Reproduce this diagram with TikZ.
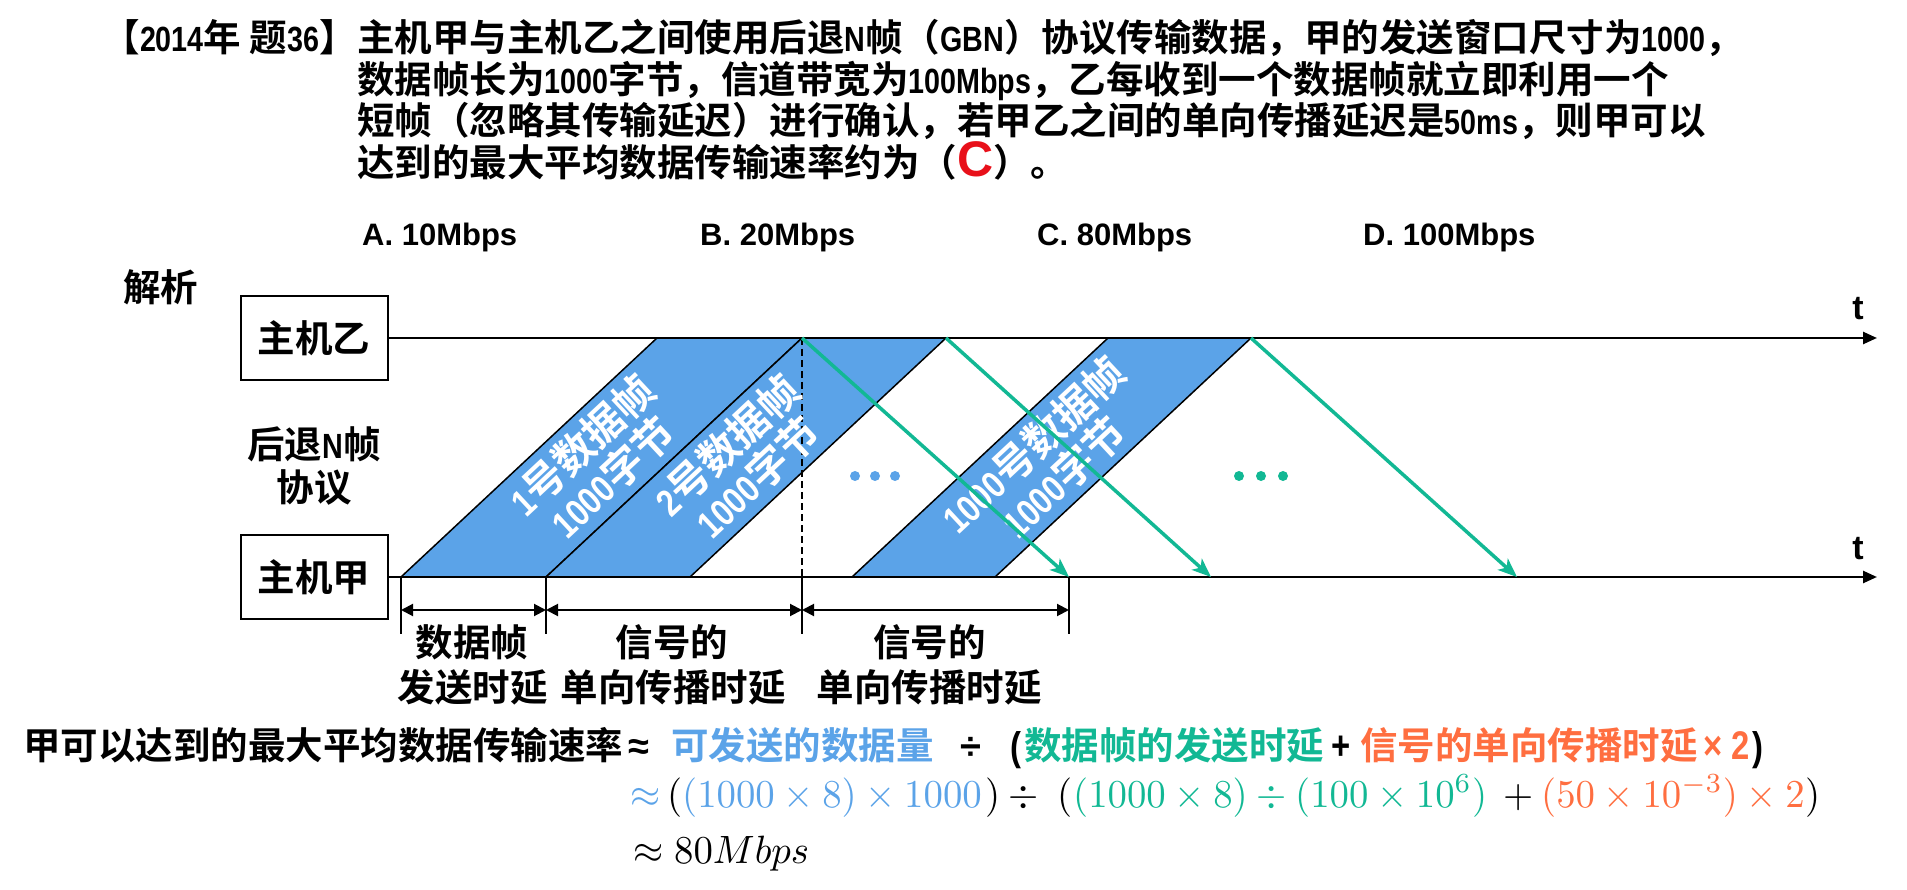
\documentclass[tikz,border=0pt]{standalone}
\usepackage{fontspec}
\usepackage{graphicx}
\usetikzlibrary{arrows.meta}
\setmainfont{Liberation Sans}
\newfontfamily\cjkf{Noto Sans CJK SC}[BoldFont={Noto Sans CJK SC Bold}]
\newfontfamily\latf{Liberation Sans}
\newfontfamily\latn{Liberation Sans}[FakeStretch=0.82]
\definecolor{fblue}{HTML}{5BA3E8}
\definecolor{tgreen}{HTML}{12B894}
\definecolor{torange}{HTML}{FF6E40}
\definecolor{cred}{HTML}{E8101A}
\newcommand\zhfont{\cjkf\bfseries\fontsize{37.5}{43}\selectfont}
\newcommand\frfont{\cjkf\bfseries\fontsize{41}{44}\selectfont}
\newcommand\lt[1]{{\latn\bfseries\fontsize{35}{36}\selectfont #1}}
\newcommand\fl[1]{{\latn\bfseries\fontsize{38}{44}\selectfont #1}}
\newcommand\latfont{\latf\bfseries\fontsize{31}{36}\selectfont}
\newcommand\narfont{\latn\bfseries\fontsize{40}{40}\selectfont}
\newcommand\symfont{\latf\bfseries\fontsize{38}{40}\selectfont}
\newcommand\tfont{\latf\bfseries\fontsize{34}{36}\selectfont}
\newcommand\mth[1]{\scalebox{3.88}[3.95]{$#1$}}
\begin{document}
\begin{tikzpicture}[x=1pt,y=-1pt,
  zh/.style={font=\zhfont, inner sep=0pt},
  lat/.style={font=\latfont, inner sep=0pt},
  nar/.style={font=\narfont, inner sep=0pt},
  sym/.style={font=\symfont, inner sep=0pt},
  hostbox/.style={draw, line width=2pt, minimum width=147pt, minimum height=84pt, inner sep=0pt, font=\zhfont},
  timeline/.style={line width=2.5pt, -{Triangle[length=14pt,width=12pt]}},
  dframe/.style={fill=fblue, draw=black, line width=1.5pt, line join=miter},
  frtext/.style={font=\frfont, text=white, align=center, rotate=43, inner sep=0pt},
  ack/.style={draw=tgreen, line width=3.5pt, -{Stealth[length=19pt,width=15pt,inset=5pt]}, tgreen},
  dimtick/.style={line width=1.5pt},
  dimline/.style={line width=2pt, {Triangle[length=12pt,width=12pt]}-{Triangle[length=12pt,width=12pt]}},
  vdash/.style={line width=1.5pt, dash pattern=on 7pt off 4pt},
  mnode/.style={inner sep=0pt, anchor=base west},
]
\useasboundingbox (0,0) rectangle (1907,890);

% ---------- heading ----------
\node[zh, anchor=base east] (hpre) at (357,52) {【\lt{2014}年 题\lt{36}】};
\node[zh, anchor=base west] (h1) at (357,52) {主机甲与主机乙之间使用后退\lt{N}帧（\lt{GBN}）协议传输数据，甲的发送窗口尺寸为\lt{1000}，};
\node[zh, anchor=base west] (h2) at (357,93.5) {数据帧长为\lt{1000}字节，信道带宽为\lt{100Mbps}，乙每收到一个数据帧就立即利用一个};
\node[zh, anchor=base west] (h3) at (357,135) {短帧（忽略其传输延迟）进行确认，若甲乙之间的单向传播延迟是\lt{50ms}，则甲可以};
\node[zh, anchor=base west] (h4) at (357,176.5) {达到的最大平均数据传输速率约为（{\latf\bfseries\fontsize{50}{50}\selectfont\color{cred}C}）。};

\node[lat, anchor=base west] (oA) at (362,246) {A. 10Mbps};
\node[lat, anchor=base west] (oB) at (700,246) {B. 20Mbps};
\node[lat, anchor=base west] (oC) at (1037,246) {C. 80Mbps};
\node[lat, anchor=base west] (oD) at (1363,246) {D. 100Mbps};

\node[zh, anchor=base west] (jx) at (123,302) {解析};

% ---------- frames ----------
\coordinate (f1a) at (401,577); \coordinate (f1b) at (546,577);
\coordinate (f1c) at (802,338); \coordinate (f1d) at (657,338);
\coordinate (f2a) at (546,577); \coordinate (f2b) at (690,577);
\coordinate (f2c) at (946,338); \coordinate (f2d) at (802,338);
\coordinate (f3a) at (852,577); \coordinate (f3b) at (995,577);
\coordinate (f3c) at (1251,338); \coordinate (f3d) at (1108,338);
\draw[dframe] (f1a) -- (f1b) -- (f1c) -- (f1d) -- cycle;
\draw[dframe] (f2a) -- (f2b) -- (f2c) -- (f2d) -- cycle;
\draw[dframe] (f3a) -- (f3b) -- (f3c) -- (f3d) -- cycle;

\coordinate (k1) at (401,577); \coordinate (k1b) at (401,634);
\coordinate (k2) at (546,577); \coordinate (k2b) at (546,634);
\coordinate (k3) at (802,577); \coordinate (k3b) at (802,634);
\coordinate (k4) at (1069,577); \coordinate (k4b) at (1069,634);
\draw[vdash] (f1c) -- (k3);

\node[frtext] (t1) at (597,461) {\fl{1}号数据帧\\\fl{1000}字节};
\node[frtext] (t2) at (742,461) {\fl{2}号数据帧\\\fl{1000}字节};
\node[frtext] (t3) at (1048,461) {\fl{1000}号数据帧\\\fl{1000}字节};

\fill[fblue] (855,476) circle[radius=5pt] (875,476) circle[radius=5pt] (895,476) circle[radius=5pt];
\fill[tgreen] (1239,476) circle[radius=5pt] (1261,476) circle[radius=5pt] (1283,476) circle[radius=5pt];

% ---------- hosts and time lines ----------
\node[hostbox] (B) at (314,338) {主机乙};
\node[hostbox] (A) at (314,577) {主机甲};
\node[zh, anchor=base] (gbn1) at (314,458.5) {后退\lt{N}帧};
\node[zh, anchor=base] (gbn2) at (314,501.5) {协议};
\coordinate (tB) at (1877,338);
\coordinate (tA) at (1877,577);
\draw[timeline] (B.east) -- (tB);
\draw[timeline] (A.east) -- (tA);
\node[font=\tfont, inner sep=0pt] (tBl) at (1858,309) {t};
\node[font=\tfont, inner sep=0pt] (tAl) at (1858,549) {t};

% ---------- dimensions ----------
\draw[dimtick] (k1) -- (k1b);
\draw[dimtick] (k2) -- (k2b);
\draw[dimtick] (k3) -- (k3b);
\draw[dimtick] (k4) -- (k4b);
\coordinate (m1) at (401,610); \coordinate (m2) at (546,610);
\coordinate (m3) at (802,610); \coordinate (m4) at (1069,610);
\draw[dimline] (m1) -- (m2);
\draw[dimline] (m2) -- (m3);
\draw[dimline] (m3) -- (m4);

\node[zh, anchor=base] (l1a) at (472,656.5) {数据帧};
\node[zh, anchor=base] (l1b) at (472.5,701.5) {发送时延};
\node[zh, anchor=base] (l2a) at (672,656.5) {信号的};
\node[zh, anchor=base] (l2b) at (673,701.5) {单向传播时延};
\node[zh, anchor=base] (l3a) at (929.5,656.5) {信号的};
\node[zh, anchor=base] (l3b) at (929,701.5) {单向传播时延};

% ---------- acknowledgements ----------
\coordinate (g1e) at (1069,577);
\coordinate (g2e) at (1211,577);
\coordinate (g3e) at (1517,577);
\draw[ack] (f1c) -- (g1e);
\draw[ack] (f2c) -- (g2e);
\draw[ack] (f3c) -- (g3e);

% ---------- formula ----------
\node[zh, anchor=base west] (r1a) at (23,759) {甲可以达到的最大平均数据传输速率};
\node[sym, anchor=base west] (r1b) at (628,759) {≈};
\node[zh, anchor=base west, text=fblue] (r1c) at (671,759) {可发送的数据量};
\node[sym, anchor=base west] (r1d) at (960,759) {÷};
\node[nar, anchor=base west] (r1e) at (1010,760) {(};
\node[zh, anchor=base west, text=tgreen] (r1f) at (1024,759) {数据帧的发送时延};
\node[nar, anchor=base west] (r1g) at (1331,759) {+};
\node[zh, anchor=base west, text=torange] (r1h) at (1360,759) {信号的单向传播时延};
\node[nar, anchor=base west, text=torange] (r1i) at (1703,759) {× 2};
\node[nar, anchor=base west] (r1j) at (1752,760) {)};

\node[mnode, text=fblue] (r2a) at (630,807) {\mth{\approx}};
\node[mnode] (r2b) at (667,807) {\mth{(}};
\node[mnode, text=fblue] (r2c) at (682,807) {\mth{(1000\times 8)\times 1000}};
\node[mnode] (r2d) at (985,807) {\mth{)}};
\node[mnode] (r2e) at (1008,807) {\mth{\div}};
\node[mnode] (r2f) at (1057,807) {\mth{(}};
\node[mnode, text=tgreen] (r2g) at (1073,807) {\mth{(1000\times 8)\div(100\times 10^{6})}};
\node[mnode] (r2h) at (1503,807) {\mth{+}};
\node[mnode, text=torange] (r2i) at (1541,807) {\mth{(50\times 10^{-3})\times 2}};
\node[mnode] (r2j) at (1805,807) {\mth{)}};

\node[mnode] (r3a) at (633,863) {\mth{\approx 80Mbps}};
\end{tikzpicture}
\end{document}
